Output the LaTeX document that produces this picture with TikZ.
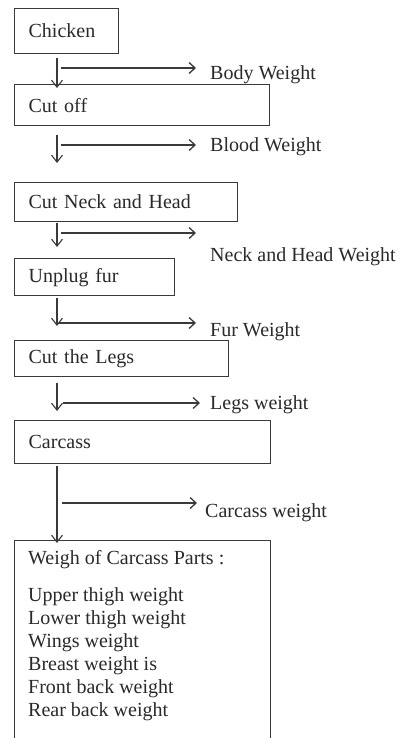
\documentclass[tikz,border=0pt]{standalone}
\usepackage{fontspec}
\setmainfont{Liberation Serif}
\usetikzlibrary{arrows.meta}
\definecolor{ink}{HTML}{2A2A2A}
\definecolor{linec}{HTML}{3A3A3A}
\begin{document}
\begin{tikzpicture}[x=1pt,y=-1pt,
  stepbox/.style={draw=linec, line width=1.3pt, anchor=north west, inner xsep=14pt, inner ysep=0pt, align=left, text=ink, font=\fontsize{20}{23}\selectfont},
  lbl/.style={anchor=west, inner sep=0pt, text=ink, font=\fontsize{20}{23}\selectfont},
  varr/.style={draw=linec, line width=1.1pt, -{Straight Barb[length=7pt,width=11pt,line width=1.1pt]}},
  harr/.style={draw=linec, line width=1.4pt, -{Straight Barb[length=6pt,width=11pt,line width=1.3pt]}}
]
\useasboundingbox (0,0) rectangle (399,738);
\fill[white] (0,0) rectangle (399,738);

% boxes
\node[stepbox, minimum width=104pt, minimum height=45pt, text width=76pt] (b1) at (14,8) {Chicken};
\node[stepbox, minimum width=255pt, minimum height=41pt, text width=227pt] (b2) at (14,84) {Cut off};
\node[stepbox, minimum width=223pt, minimum height=39pt, text width=195pt] (b3) at (14,182) {Cut Neck and Head};
\node[stepbox, minimum width=160pt, minimum height=37pt, text width=132pt] (b4) at (14,258) {Unplug fur};
\node[stepbox, minimum width=214pt, minimum height=36pt, text width=186pt] (b5) at (14,340) {Cut the Legs};
\node[stepbox, minimum width=256pt, minimum height=43pt, text width=228pt] (b6) at (14,420) {Carcass};
\node[draw=linec, line width=1.3pt, anchor=north west, inner sep=0pt, minimum width=256pt, minimum height=210pt] (b7) at (14,540) {};
\node[anchor=north west, inner sep=0pt, align=left, text=ink, font=\fontsize{20}{23}\selectfont] (parts) at (28,550)
  {Weigh of Carcass Parts :\\[14pt]
   Upper thigh weight\\
   Lower thigh weight\\
   Wings weight\\
   Breast weight is\\
   Front back weight\\
   Rear back weight};

% labels
\node[lbl] (l1) at (210,75) {Body Weight};
\node[lbl] (l2) at (210,147) {Blood Weight};
\node[lbl] (l3) at (210,257) {Neck and Head Weight};
\node[lbl] (l4) at (210,332) {Fur Weight};
\node[lbl] (l5) at (210,405) {Legs weight};
\node[lbl] (l6) at (205,513) {Carcass weight};

% coordinates
\coordinate (v1s) at (57,58);  \coordinate (v1e) at (57,88);
\coordinate (h1s) at (61,68);  \coordinate (h1e) at (196,68);
\coordinate (v2s) at (57,135); \coordinate (v2e) at (57,163);
\coordinate (h2s) at (61,145); \coordinate (h2e) at (196,145);
\coordinate (v3s) at (57,223); \coordinate (v3e) at (57,247);
\coordinate (h3s) at (61,233); \coordinate (h3e) at (196,233);
\coordinate (v4s) at (57,298); \coordinate (v4e) at (57,326);
\coordinate (h4s) at (59,323); \coordinate (h4e) at (196,323);
\coordinate (v5s) at (57,383); \coordinate (v5e) at (57,411);
\coordinate (h5s) at (63,403); \coordinate (h5e) at (200,403);
\coordinate (v6s) at (57,466); \coordinate (v6e) at (57,543);
\coordinate (h6s) at (62,503); \coordinate (h6e) at (197,503);

\draw[varr] (v1s) -- (v1e);
\draw[harr] (h1s) -- (h1e);
\draw[varr] (v2s) -- (v2e);
\draw[harr] (h2s) -- (h2e);
\draw[varr] (v3s) -- (v3e);
\draw[harr] (h3s) -- (h3e);
\draw[varr] (v4s) -- (v4e);
\draw[harr] (h4s) -- (h4e);
\draw[varr] (v5s) -- (v5e);
\draw[harr] (h5s) -- (h5e);
\draw[varr, line width=2.2pt] (v6s) -- (v6e);
\draw[harr, line width=2pt] (h6s) -- (h6e);
\end{tikzpicture}
\end{document}
